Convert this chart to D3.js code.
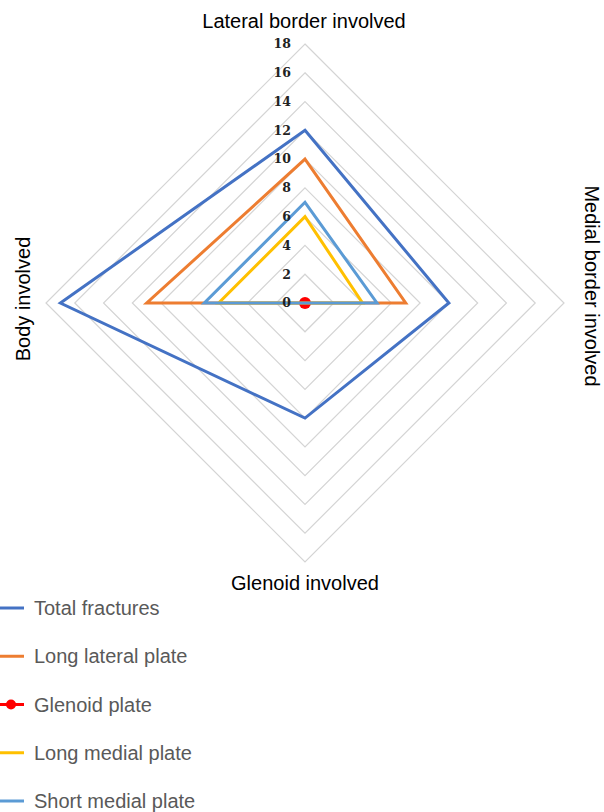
<!DOCTYPE html>
<html>
<head>
<meta charset="utf-8">
<script src="https://cdn.jsdelivr.net/npm/d3@7"></script>
<style>
  html, body { margin: 0; padding: 0; background: #fff; }
  svg { display: block; }
</style>
</head>
<body>
<svg id="chart" width="604" height="812"></svg>
<script>
// ---- data ----
const axes = ["Lateral border involved", "Medial border involved", "Glenoid involved", "Body involved"];
const seriesNames = ["Total fractures", "Long lateral plate", "Glenoid plate", "Long medial plate", "Short medial plate"];
const totalFractures = [12, 10, 8, 17];
const longLateralPlate = [10, 7, 0, 11];
const glenoidPlate = [0, 0, 0, 0];
const longMedialPlate = [6, 4, 0, 6];
const shortMedialPlate = [7, 5, 0, 7];
const tickValues = [0, 2, 4, 6, 8, 10, 12, 14, 16, 18];
const seriesColors = ["#4472C4", "#ED7D31", "#FF0000", "#FFC000", "#5B9BD5"];

const seriesValues = [totalFractures, longLateralPlate, glenoidPlate, longMedialPlate, shortMedialPlate];

// ---- layout ----
const svg = d3.select("#chart");
const cx = 305, cy = 303, R = 259;
const r = d3.scaleLinear().domain([0, 18]).range([0, R]);
const angle = i => -Math.PI / 2 + i * Math.PI / 2;
const pt = (v, i) => [cx + r(v) * Math.cos(angle(i)), cy + r(v) * Math.sin(angle(i))];

// grid diamonds
const g = svg.append("g");
tickValues.filter(t => t > 0).forEach(t => {
  g.append("polygon")
    .attr("points", axes.map((a, i) => pt(t, i).join(",")).join(" "))
    .attr("fill", "none")
    .attr("stroke", "#d4d4d4")
    .attr("stroke-width", 1.2);
});

// series
const line = d3.line().curve(d3.curveLinearClosed);
seriesValues.forEach((vals, s) => {
  const pts = vals.map((v, i) => pt(v, i));
  svg.append("path")
    .attr("d", line(pts))
    .attr("fill", "none")
    .attr("stroke", seriesColors[s])
    .attr("stroke-width", 3)
    .attr("stroke-linejoin", "miter");
  if (seriesNames[s] === "Glenoid plate") {
    svg.selectAll(null).data(pts.slice(0, 1)).enter().append("circle")
      .attr("cx", d => d[0]).attr("cy", d => d[1]).attr("r", 6)
      .attr("fill", seriesColors[s]);
  }
});

// tick labels
svg.append("g").selectAll("text").data(tickValues).enter().append("text")
  .attr("x", cx - 14)
  .attr("y", d => cy - r(d))
  .attr("dy", "0.35em")
  .attr("text-anchor", "end")
  .attr("font-family", "'DejaVu Serif', 'Liberation Serif', serif")
  .attr("font-weight", "bold")
  .attr("font-size", 12.5)
  .attr("fill", "#222")
  .text(d => d);

// axis labels
const lf = "'Liberation Sans', Arial, sans-serif";
const fs = 20;
svg.append("text").attr("x", cx - 1).attr("y", 28).attr("text-anchor", "middle")
  .attr("font-family", lf).attr("font-size", fs).attr("fill", "#000").text(axes[0]);
svg.append("text").attr("transform", `translate(585, 286) rotate(90)`).attr("text-anchor", "middle")
  .attr("font-family", lf).attr("font-size", fs).attr("fill", "#000").text(axes[1]);
svg.append("text").attr("x", cx).attr("y", 590).attr("text-anchor", "middle")
  .attr("font-family", lf).attr("font-size", fs).attr("fill", "#000").text(axes[2]);
svg.append("text").attr("transform", `translate(30, 299) rotate(-90)`).attr("text-anchor", "middle")
  .attr("font-family", lf).attr("font-size", fs).attr("fill", "#000").text(axes[3]);

// legend
const ly = d3.scalePoint().domain(seriesNames).range([608, 801]);
const lg = svg.append("g");
seriesNames.forEach((n, s) => {
  const y = ly(n);
  lg.append("line").attr("x1", 0).attr("x2", 24).attr("y1", y).attr("y2", y)
    .attr("stroke", seriesColors[s]).attr("stroke-width", 3);
  if (n === "Glenoid plate") {
    lg.append("circle").attr("cx", 11).attr("cy", y).attr("r", 5).attr("fill", seriesColors[s]);
  }
  lg.append("text").attr("x", 34).attr("y", y).attr("dy", "0.35em")
    .attr("font-family", lf).attr("font-size", fs).attr("fill", "#595959").text(n);
});
</script>
</body>
</html>
